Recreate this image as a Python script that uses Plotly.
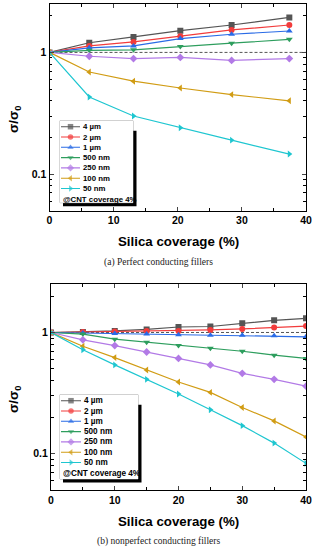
import plotly.graph_objects as go
import math

# ---------------- data ----------------
series_names = ["4 µm", "2 µm", "1 µm", "500 nm", "250 nm", "100 nm", "50 nm"]

x_a = [0, 6.2, 13.1, 20.4, 28.4, 37.4]
a_4um = [1, 1.20, 1.34, 1.51, 1.68, 1.94]
a_2um = [1, 1.13, 1.22, 1.36, 1.53, 1.68]
a_1um = [1, 1.09, 1.13, 1.30, 1.41, 1.50]
a_500nm = [1, 1.04, 1.05, 1.12, 1.19, 1.28]
a_250nm = [1, 0.93, 0.89, 0.91, 0.86, 0.89]
a_100nm = [1, 0.69, 0.58, 0.51, 0.45, 0.40]
a_50nm = [1, 0.43, 0.30, 0.24, 0.19, 0.146]

x_b = [0, 5, 10, 15, 20, 25, 30, 35, 40]
b_4um = [1, 1.01, 1.03, 1.06, 1.11, 1.12, 1.19, 1.26, 1.31]
b_2um = [1, 1.01, 1.02, 1.03, 1.03, 1.05, 1.07, 1.10, 1.13]
b_1um = [1, 0.99, 0.98, 0.97, 0.96, 0.95, 0.95, 0.94, 0.92]
b_500nm = [1, 0.97, 0.88, 0.83, 0.78, 0.74, 0.70, 0.65, 0.61]
b_250nm = [1, 0.87, 0.78, 0.69, 0.61, 0.54, 0.46, 0.41, 0.36]
b_100nm = [1, 0.77, 0.62, 0.49, 0.39, 0.32, 0.24, 0.186, 0.137]
b_50nm = [1, 0.72, 0.54, 0.41, 0.31, 0.23, 0.17, 0.122, 0.083]

x_ticks = [0, 10, 20, 30, 40]
legend_note = "@CNT coverage 4%"
caption_a = "(a) Perfect conducting fillers"
caption_b = "(b) nonperfect conducting fillers"
x_title = "Silica coverage (%)"
y_title = "σ/σ<sub>0</sub>"

# ---------------- styles ----------------
colors = ["#555555", "#f23c3c", "#2a6be6", "#2e9e5e", "#b27ae6", "#d19c14", "#1ec6d0"]
symbols = ["square", "circle", "triangle-up", "triangle-down", "diamond",
           "triangle-left", "triangle-right"]

W, H = 318, 550
ML, MR, MT, MB = 49, 12, 4, 60
PW, PH = W - ML - MR, H - MT - MB


def xp(px):
    return (px - ML) / PW


def yp(py):
    return (H - MB - py) / PH


fig = go.Figure()

series_a = [a_4um, a_2um, a_1um, a_500nm, a_250nm, a_100nm, a_50nm]
series_b = [b_4um, b_2um, b_1um, b_500nm, b_250nm, b_100nm, b_50nm]

for i, (name, ys) in enumerate(zip(series_names, series_a)):
    fig.add_trace(go.Scatter(x=x_a, y=ys, name=name, mode="lines+markers",
                             line=dict(color=colors[i], width=1.2),
                             marker=dict(symbol=symbols[i], size=6, color=colors[i]),
                             xaxis="x", yaxis="y", showlegend=False))
for i, (name, ys) in enumerate(zip(series_names, series_b)):
    fig.add_trace(go.Scatter(x=x_b, y=ys, name=name, mode="lines+markers",
                             line=dict(color=colors[i], width=1.2),
                             marker=dict(symbol=symbols[i], size=6, color=colors[i]),
                             xaxis="x2", yaxis="y2", showlegend=False))

# ---------------- custom legends (hidden axes) ----------------
legends = [
    # axis suffix, box px (x0, x1, y0, y1), line x0, x1, text x, font size
    ("3", (60, 133, 120.7, 202.7), 1, 20, 21, 7.8),
    ("4", (60, 138, 394.7, 479.0), 1, 21, 22, 8.2),
]
annotations = []
shapes = []
for suf, (bx0, bx1, by0, by1), lx0, lx1, tx, fs in legends:
    bw, bh = bx1 - bx0, by1 - by0
    fig.update_layout(**{
        "xaxis" + suf: dict(domain=[xp(bx0), xp(bx1)], range=[0, bw], visible=False,
                            fixedrange=True, anchor="y" + suf),
        "yaxis" + suf: dict(domain=[yp(by1), yp(by0)], range=[bh, 0], visible=False,
                            fixedrange=True, anchor="x" + suf),
    })
    # shadow + box
    shapes.append(dict(type="rect", xref="paper", yref="paper",
                       x0=xp(bx0 + 3), x1=xp(bx1 + 3.5), y0=yp(by1 + 3.5), y1=yp(by0 + 10),
                       fillcolor="black", line=dict(width=0), layer="below"))
    shapes.append(dict(type="rect", xref="paper", yref="paper",
                       x0=xp(bx0), x1=xp(bx1), y0=yp(by1), y1=yp(by0),
                       fillcolor="white", line=dict(color="#999999", width=0.8), layer="below"))
    for i, name in enumerate(series_names):
        ry = 6 + 10.3 * i
        fig.add_trace(go.Scatter(
            x=[lx0, (lx0 + lx1) / 2, lx1], y=[ry, ry, ry], mode="lines+markers",
            line=dict(color=colors[i], width=1.1),
            marker=dict(symbol=symbols[i], size=[0, 5.5, 0], color=colors[i],
                        line=dict(width=0)),
            xaxis="x" + suf, yaxis="y" + suf, showlegend=False, hoverinfo="skip",
            cliponaxis=False))
        annotations.append(dict(xref="x" + suf, yref="y" + suf, x=tx, y=ry, text=name,
                                showarrow=False, xanchor="left", yanchor="middle",
                                font=dict(family="Liberation Sans", size=fs, color="black",
                                          weight="bold")))
    annotations.append(dict(xref="x" + suf, yref="y" + suf, x=lx0 - 0.5, y=6 + 10.3 * 7 + 0.5,
                            text=legend_note, showarrow=False, xanchor="left",
                            yanchor="middle",
                            font=dict(family="Liberation Sans", size=fs, color="black",
                                      weight="bold")))

# ---------------- main axes ----------------
tickfont = dict(family="Liberation Sans", size=10.5, color="black", weight="bold")
yrange = [math.log10(0.05), math.log10(2.5)]
common_x = dict(range=[0, 40], tickvals=x_ticks, ticks="inside", ticklen=4, tickwidth=1,
                showline=True, linecolor="black", linewidth=1.2, mirror="ticks",
                showgrid=False, zeroline=False, tickfont=tickfont,
                minor=dict(ticks="inside", dtick=5, tick0=0, ticklen=2.5, tickwidth=1,
                           tickcolor="black", showgrid=False))
common_y = dict(type="log", range=yrange, dtick=1, tick0=0, ticks="inside", ticklen=4,
                tickwidth=1, showline=True, linecolor="black", linewidth=1.2,
                mirror="ticks", showgrid=False, zeroline=False, tickfont=tickfont,
                minor=dict(ticks="inside", dtick="D1", ticklen=2.5, tickwidth=1,
                           tickcolor="black", showgrid=False))

fig.update_layout(
    xaxis=dict(domain=[xp(49.5), xp(306)], anchor="y", **common_x),
    yaxis=dict(domain=[yp(210.7), yp(4)], anchor="x", **common_y),
    xaxis2=dict(domain=[xp(51), xp(306)], anchor="y2", **common_x),
    yaxis2=dict(domain=[yp(490), yp(284.3)], anchor="x2", **common_y),
)

# reference dashed lines at 1
for xr, yr in (("x domain", "y"), ("x2 domain", "y2")):
    shapes.append(dict(type="line", xref=xr, yref=yr, x0=0, x1=1, y0=1, y1=1,
                       line=dict(color="#555555", width=1, dash="3px,2px"), layer="below"))

# titles and captions
title_font = dict(family="Liberation Sans", size=13.3, color="black", weight="bold")
cap_font = dict(family="Liberation Serif", size=9.5, color="#222222")
for cy, ty, ycap, cap in ((241.7, 120, 262, caption_a), (521.7, 400, 541.7, caption_b)):
    annotations.append(dict(xref="paper", yref="paper", x=xp(178), y=yp(cy), text=x_title,
                            showarrow=False, xanchor="center", yanchor="middle",
                            font=title_font))
    annotations.append(dict(xref="paper", yref="paper", x=xp(14), y=yp(ty), text=y_title,
                            showarrow=False, xanchor="center", yanchor="middle",
                            textangle=-90, font=dict(family="Liberation Sans", size=13.5,
                                                     color="black", weight="bold")))
    annotations.append(dict(xref="paper", yref="paper", x=xp(158.5), y=yp(ycap), text=cap,
                            showarrow=False, xanchor="center", yanchor="middle",
                            font=cap_font))

fig.update_layout(
    width=W, height=H, margin=dict(l=ML, r=MR, t=MT, b=MB),
    paper_bgcolor="white", plot_bgcolor="white",
    showlegend=False, annotations=annotations, shapes=shapes,
)

fig.write_html("out.html", config={"displayModeBar": False},
               post_script="document.body.style.margin='0';document.body.style.overflow='hidden';")
